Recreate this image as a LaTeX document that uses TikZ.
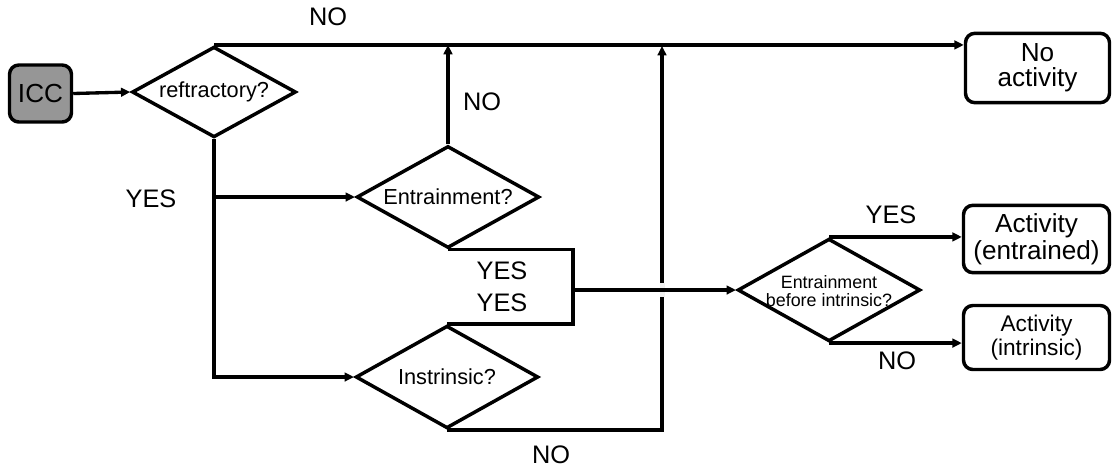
\documentclass[tikz,border=0pt]{standalone}
\usepackage{fontspec}
\setmainfont{Liberation Sans}
\usetikzlibrary{arrows.meta,shapes.geometric}
\definecolor{iccgray}{RGB}{150,150,150}
\begin{document}
\begin{tikzpicture}[x=0.75pt,y=-0.75pt,
  conn/.style={draw=black,line width=2.5pt},
  arr/.style={conn,-{Triangle[length=7pt,width=6.5pt]}},
  dia/.style={shape=diamond,draw=black,line width=2.6pt,inner sep=0pt},
  dtext/.style={inner sep=0pt,align=center,font=\fontsize{16.3}{18}\selectfont},
  rbox/.style={shape=rectangle,draw=black,line width=2.6pt,rounded corners=7pt,inner sep=0pt,align=center},
  lbl/.style={inner sep=0pt,font=\fontsize{19}{21}\selectfont}
]
\useasboundingbox (0,0) rectangle (1113,469);
% boxes
\node[rbox,fill=iccgray,minimum width=46.5pt,minimum height=42.75pt,font=\fontsize{19.6}{21}\selectfont] (icc) at (40.5,93.5) {ICC};
\node[rbox,minimum width=108pt,minimum height=52pt,font=\fontsize{19.6}{19}\selectfont] (na) at (1037.5,68) {No\\activity};
\node[rbox,minimum width=109.5pt,minimum height=50.5pt,font=\fontsize{19.6}{20}\selectfont] (ae) at (1036.5,239) {Activity\\(entrained)};
\node[rbox,minimum width=109.5pt,minimum height=48pt,font=\fontsize{17}{18}\selectfont] (ai) at (1036.5,337.5) {Activity\\(intrinsic)};
% diamonds
\node[dia,minimum width=123pt,minimum height=68pt] (d1) at (214,92) {};
\node[dtext] (d1t) at (214,92) {reftractory?};
\node[dia,minimum width=137pt,minimum height=76.5pt] (d2) at (448,197) {};
\node[dtext] (d2t) at (448,197) {Entrainment?};
\node[dia,minimum width=137pt,minimum height=77pt] (d3) at (447,377) {};
\node[dtext] (d3t) at (447,377) {Instrinsic?};
\node[dia,minimum width=137pt,minimum height=77pt] (d4) at (829,290) {};
\node[dtext,font=\fontsize{13.4}{14}\selectfont] (d4t) at (829,291) {Entrainment\\before intrinsic?};
% helper coordinates
\coordinate (c1) at (573,290);
\coordinate (c2) at (662,46);
% connectors
\draw[arr] (icc.east) -- (d1.west);
\draw[arr] (d1.north) -- (d1.north -| na.west);
\draw[arr] (d2.north) -- (d2.north |- d1.north);
\draw[arr] (d1.south) |- (d3.west);
\draw[arr] (d1.south |- d2.west) -- (d2.west);
\draw[conn] (d2.south) -| (c1) |- (d3.north);
\draw[arr] (d3.south) -| (c2);
\fill[gray!12] (659.5,283) rectangle (664.5,297);
\draw[arr] (c1) -- (d4.west);
\draw[arr] (d4.north) -- (d4.north -| ae.west);
\draw[arr] (d4.south) -- (d4.south -| ai.west);
% labels
\node[lbl] (l1) at (328,17) {NO};
\node[lbl] (l2) at (482,102) {NO};
\node[lbl] (l3) at (151,199) {YES};
\node[lbl] (l4) at (502,271) {YES};
\node[lbl] (l5) at (502,303) {YES};
\node[lbl] (l6) at (551,455) {NO};
\node[lbl] (l7) at (891,215) {YES};
\node[lbl] (l8) at (897,361) {NO};
\end{tikzpicture}
\end{document}
